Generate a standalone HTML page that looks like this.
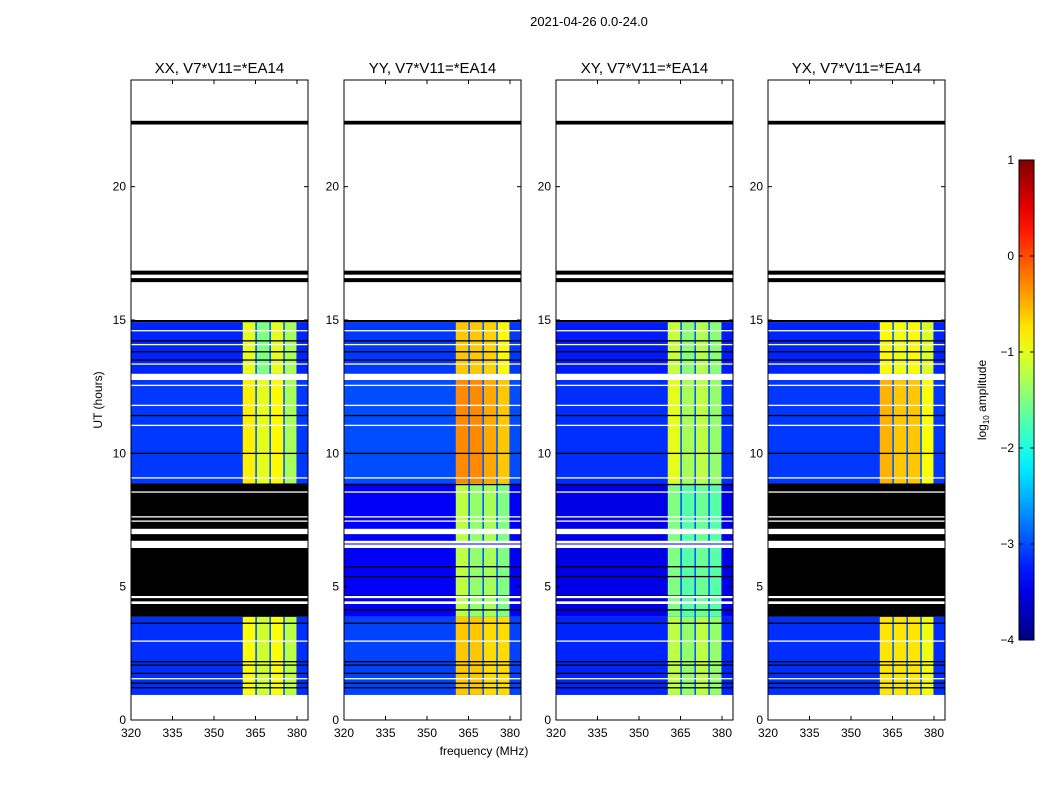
<!DOCTYPE html>
<html><head><meta charset="utf-8">
<style>
body{margin:0;background:#fff;width:1050px;height:800px;overflow:hidden;font-family:"Liberation Sans","DejaVu Sans",sans-serif}
svg text{font-family:"Liberation Sans","DejaVu Sans",sans-serif;fill:#000}
</style></head>
<body>
<svg id="chart" width="1050" height="800" xmlns="http://www.w3.org/2000/svg"></svg>
<script>
// ---- data ----
const panelTitles = ["XX, V7*V11=*EA14","YY, V7*V11=*EA14","XY, V7*V11=*EA14","YX, V7*V11=*EA14"];
const yTicks = [0,5,10,15,20];
const xTicks = [320,335,350,365,380];
const cbTicks = [1,0,-1,-2,-3,-4];
// time periods [startHour, endHour]
const periods = [[0.94,3.87],[3.87,8.87],[8.87,12.75],[12.98,14.92]];
// background log amplitude per panel per period
const bgVals = [
  [-3.15,-3.5,-3.1,-3.2],
  [-3.05,-3.4,-3.0,-3.1],
  [-3.2,-3.5,-3.15,-3.25],
  [-3.15,-3.5,-3.1,-3.2]];
// four sub-band amplitudes per panel per period
const bandVals = [
  [[-0.9,-1.1,-0.9,-1.2],null,[-0.8,-1.0,-0.85,-1.3],[-1.0,-1.5,-1.0,-1.3]],
  [[-0.6,-0.6,-0.7,-0.7],[-1.2,-1.4,-1.3,-1.5],[-0.3,-0.3,-0.45,-0.6],[-0.6,-0.6,-0.65,-0.85]],
  [[-1.2,-1.4,-1.2,-1.4],[-1.5,-1.7,-1.6,-1.7],[-1.0,-1.3,-1.2,-1.4],[-1.15,-1.45,-1.25,-1.45]],
  [[-0.75,-0.75,-0.75,-0.95],null,[-0.5,-0.6,-0.6,-0.9],[-0.85,-0.95,-0.85,-1.05]]];
const bandEdges = [360.4,365.1,370.2,375.2,379.8];
const whiteLines = [14.6,14.08,13.35,12.55,11.8,11.05,9.08,8.55,7.62,7.46,2.96,1.55];
const blackLines = [14.22,13.81,13.5,11.42,10.0,8.83,5.75,5.38,4.65,4.13,3.63,2.19,2.06,1.75,1.38,1.21];
const whiteBlocks = [[6.97,7.17],[6.45,6.72],[4.35,4.45],[4.57,4.65]];
const flagLinesTop = [[22.33,22.47],[16.7,16.85],[16.42,16.57],[14.92,15.0]];

// ---- layout ----
const panelX = [131,344,556,768], PW=177, PT=80, PB=720;
const NS="http://www.w3.org/2000/svg";
const svg=document.getElementById('chart');
function el(tag,attrs,parent){const e=document.createElementNS(NS,tag);for(const k in attrs)e.setAttribute(k,attrs[k]);(parent||svg).appendChild(e);return e;}
function jet(v){let t=(v+4)/5;t=Math.max(0,Math.min(1,t));const c=x=>Math.round(255*Math.max(0,Math.min(1,x)));
 return `rgb(${c(1.5-Math.abs(4*t-3))},${c(1.5-Math.abs(4*t-2))},${c(1.5-Math.abs(4*t-1))})`;}
const yS=h=>PB-(h/24)*(PB-PT);
const xS=(x0,f)=>x0+(f-320)*(166/60);

const title=el('text',{x:589,y:26,'font-size':13,'text-anchor':'middle'});

title.textContent="2021-04-26 0.0-24.0";

panelX.forEach((x0,p)=>{
  const g=el('g',{});
  
  
  const clip=el('clipPath',{id:'c'+p},g);el('rect',{x:x0,y:PT,width:PW,height:PB-PT},clip);
  const d=el('g',{'clip-path':`url(#c${p})`},g);
  periods.forEach((pr,i)=>{
    const y1=yS(pr[1]),y0=yS(pr[0]);
    const bg=el('rect',{x:x0,y:y1,width:PW,height:y0-y1,fill:bandVals[p][i]?jet(bgVals[p][i]):'#000'},d);
    
    if(bandVals[p][i]){
      bandVals[p][i].forEach((v,b)=>{
        const xa=xS(x0,bandEdges[b]),xb=xS(x0,bandEdges[b+1]);
        const r=el('rect',{x:xa+(b?1:0),y:y1,width:xb-xa-(b?1:0),height:y0-y1,fill:jet(v)},d);
        
        if(b) el('rect',{x:xa-0.5,y:y1,width:1.5,height:y0-y1,fill:jet(-2.9)},d);
      });
    }
  });
  whiteLines.forEach(h=>el('rect',{x:x0,y:yS(h)-0.6,width:PW,height:1.3,fill:'#fff'},d));
  blackLines.forEach(h=>el('rect',{x:x0,y:yS(h)-0.6,width:PW,height:1.3,fill:'#000'},d));
  whiteBlocks.forEach(w=>el('rect',{x:x0,y:yS(w[1]),width:PW,height:yS(w[0])-yS(w[1]),fill:'#fff'},d));
  [[6.58,6.62]].forEach(w=>{ if(bandVals[p][1]) el('rect',{x:x0,y:yS(w[1]),width:PW,height:yS(w[0])-yS(w[1]),fill:jet(-3.3)},d);});
  flagLinesTop.forEach(w=>el('rect',{x:x0,y:yS(w[1]),width:PW,height:yS(w[0])-yS(w[1]),fill:'#000'},d));
  el('rect',{x:x0,y:yS(12.98),width:PW,height:yS(12.75)-yS(12.98),fill:'#fff'},d);
  el('rect',{x:x0,y:PT,width:PW,height:PB-PT,fill:'none',stroke:'#000','stroke-width':1},g);
  const t=el('text',{x:x0+PW/2,y:73,'font-size':15,'text-anchor':'middle'},g);
  
  t.textContent=panelTitles[p];
  yTicks.forEach(h=>{
    const y=yS(h);
    el('line',{x1:x0,x2:x0+4,y1:y,y2:y,stroke:'#000'},g);
    el('line',{x1:x0+PW-4,x2:x0+PW,y1:y,y2:y,stroke:'#000'},g);
    const l=el('text',{x:x0-5,y:y+4,'font-size':12,'text-anchor':'end'},g);
    
    l.textContent=h;
  });
  xTicks.forEach(f=>{
    const x=xS(x0,f);
    el('line',{x1:x,x2:x,y1:PB,y2:PB-4,stroke:'#000'},g);
    el('line',{x1:x,x2:x,y1:PT,y2:PT+4,stroke:'#000'},g);
    const l=el('text',{x:x,y:737,'font-size':12,'text-anchor':'middle'},g);
    
    l.textContent=f;
  });
});
const yl=el('text',{x:102,y:400,'font-size':12,'text-anchor':'middle',transform:'rotate(-90 102 400)'});
yl.textContent="UT (hours)";
const xl=el('text',{x:484,y:755,'font-size':12,'text-anchor':'middle'});
xl.textContent="frequency (MHz)";

// colorbar
const cb=el('g',{});
const defs=el('defs',{},cb);const lg=el('linearGradient',{id:'jg',x1:0,y1:1,x2:0,y2:0},defs);
for(let i=0;i<=20;i++){el('stop',{offset:i/20,'stop-color':jet(-4+5*i/20)},lg);}
el('rect',{x:1019,y:160,width:15,height:480,fill:'url(#jg)',stroke:'#000'},cb);
cbTicks.forEach(v=>{const y=160+(1-v)*96;
  el('line',{x1:1019,x2:1023,y1:y,y2:y,stroke:'#000'},cb);el('line',{x1:1030,x2:1034,y1:y,y2:y,stroke:'#000'},cb);
  const l=el('text',{x:1014,y:y+4,'font-size':12,'text-anchor':'end'},cb);
  
  l.textContent=v<0?'\u2212'+(-v):v;});
const cl=el('text',{x:986,y:400,'font-size':12,'text-anchor':'middle',transform:'rotate(-90 986 400)'},cb);

cl.innerHTML='log<tspan font-size="8" dy="3">10</tspan><tspan dy="-3"> amplitude</tspan>';
</script>
</body></html>
